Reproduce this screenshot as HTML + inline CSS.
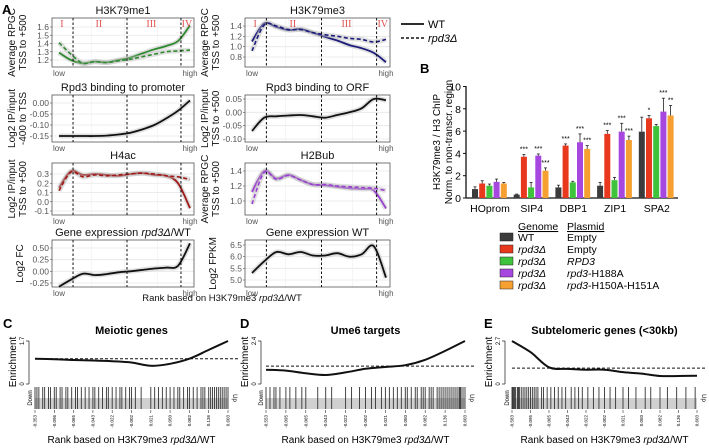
<!DOCTYPE html>
<html><head><meta charset="utf-8"><style>
body{margin:0;background:#fff;}
svg{display:block;font-family:"Liberation Sans",sans-serif;}
</style></head><body>
<svg id="fig" width="709" height="448" viewBox="0 0 709 448"></svg>
<script>
const NS='http://www.w3.org/2000/svg';
const svg=document.getElementById('fig');
function mk(tag,attrs,parent,text){const e=document.createElementNS(NS,tag);for(const k in attrs)e.setAttribute(k,attrs[k]);if(text!==undefined)e.textContent=text;(parent||svg).appendChild(e);return e;}
function smooth(pts){let d='M'+pts[0][0]+','+pts[0][1];for(let i=0;i<pts.length-1;i++){const p0=pts[Math.max(0,i-1)],p1=pts[i],p2=pts[i+1],p3=pts[Math.min(pts.length-1,i+2)];const c1=[p1[0]+(p2[0]-p0[0])/6,p1[1]+(p2[1]-p0[1])/6],c2=[p2[0]-(p3[0]-p1[0])/6,p2[1]-(p3[1]-p1[1])/6];d+=' C'+c1[0].toFixed(1)+','+c1[1].toFixed(1)+' '+c2[0].toFixed(1)+','+c2[1].toFixed(1)+' '+p2[0]+','+p2[1];}return d;}

// ---------- Panel A data ----------
const me1WT=[1.29,1.2,1.16,1.18,1.17,1.2,1.23,1.28,1.33,1.37,1.43,1.62];
const me1KO=[1.41,1.27,1.16,1.18,1.17,1.19,1.21,1.24,1.27,1.3,1.31,1.32];
const me3WT=[1.1,1.45,1.38,1.32,1.34,1.27,1.19,1.12,1.03,0.97,0.88,0.70];
const me3KO=[0.92,1.42,1.40,1.33,1.33,1.27,1.23,1.20,1.16,1.14,1.09,1.14];
const promWT=[-0.15,-0.15,-0.15,-0.15,-0.148,-0.143,-0.135,-0.12,-0.1,-0.07,-0.035,0.012];
const orfWT=[-0.07,-0.02,-0.015,-0.012,-0.01,-0.015,-0.02,-0.01,0.0,0.015,0.05,0.045];
const h4WT=[0.15,0.33,0.29,0.3,0.29,0.28,0.3,0.31,0.29,0.28,0.2,-0.07];
const h4KO=[0.12,0.32,0.27,0.29,0.28,0.29,0.3,0.31,0.3,0.28,0.27,0.24];
const h2WT=[1.12,1.4,1.3,1.35,1.28,1.22,1.21,1.19,1.17,1.16,1.14,0.9];
const h2KO=[0.96,1.38,1.29,1.34,1.28,1.22,1.22,1.2,1.19,1.18,1.17,1.14];
const fcWT=[-0.33,-0.18,-0.05,-0.08,-0.06,-0.02,0.0,0.03,0.06,0.08,0.12,0.6];
const fpkmWT=[5.3,5.8,6.2,6.1,6.2,6.05,6.05,6.15,6.0,6.1,6.45,5.1];
const me1Ticks=[1.2,1.3,1.4,1.5,1.6];
const me3Ticks=[0.8,1.0,1.2,1.4];
const promTicks=[0.00,-0.05,-0.10,-0.15];
const orfTicks=[0.05,0.00,-0.05,-0.10];
const h4Ticks=[0.3,0.2,0.1,0.0,-0.1];
const h2Ticks=[1.4,1.2,1.0];
const fcTicks=[0.50,0.25,0.00,-0.25];
const fpkmTicks=[6.5,6.0,5.5,5.0];

const L=[52,194],R=[245,390];
const panels=[
 {name:'h3k79me1',col:L,y:[18,67],v0:1.2,p0:60,v1:1.6,p1:27,title:'H3K79me1',ylab:['Average RPGC','TSS to +500'],ticks:me1Ticks,dec:1,series:[[me1WT,'#2f8a2f',0],[me1KO,'#2f8a2f',1]],regions:true},
 {name:'h3k79me3',col:R,y:[18,67],v0:0.8,p0:57,v1:1.4,p1:26,title:'H3K79me3',ylab:['Average RPGC','TSS to +500'],ticks:me3Ticks,dec:1,series:[[me3WT,'#1c1c7a',0],[me3KO,'#1c1c7a',1]],regions:true},
 {name:'rpd3-promoter',col:L,y:[95,142],v0:0,p0:103,v1:-0.15,p1:136,title:'Rpd3 binding to promoter',ylab:['Log2 IP/input','-400 to TSS'],ticks:promTicks,dec:2,series:[[promWT,'#111',0]]},
 {name:'rpd3-orf',col:R,y:[95,142],v0:0.05,p0:99,v1:-0.10,p1:139,title:'Rpd3 binding to ORF',ylab:['Log2 IP/input','TSS to +500'],ticks:orfTicks,dec:2,series:[[orfWT,'#111',0]]},
 {name:'h4ac',col:L,y:[163,215],v0:0.3,p0:174,v1:-0.1,p1:211,title:'H4ac',ylab:['Log2 IP/input','TSS to +500'],ticks:h4Ticks,dec:1,series:[[h4WT,'#a01818',0],[h4KO,'#a01818',1]]},
 {name:'h2bub',col:R,y:[163,215],v0:1.4,p0:171,v1:1.0,p1:201,title:'H2Bub',ylab:['Average RPGC','TSS to +500'],ticks:h2Ticks,dec:1,series:[[h2WT,'#9a40d0',0],[h2KO,'#9a40d0',1]]},
 {name:'expression-fc',col:L,y:[240,287],v0:0.5,p0:248,v1:-0.25,p1:283,title:'Gene expression rpd3Δ/WT',ylab:['Log2 FC'],ticks:fcTicks,dec:2,series:[[fcWT,'#111',0]]},
 {name:'expression-wt',col:R,y:[240,287],v0:6.5,p0:245,v1:5.0,p1:280,title:'Gene expression WT',ylab:['Log2 FPKM'],ticks:fpkmTicks,dec:1,series:[[fpkmWT,'#111',0]]}
];
mk('text',{x:2,y:14,'font-size':13,'font-weight':'bold',},svg,'A');
panels.forEach(P=>{
 const g=mk('g',{});
 
 
 const x0=P.col[0],x1=P.col[1],y0=P.y[0],y1=P.y[1];
 const ys=v=>P.p0+(v-P.v0)*(P.p1-P.p0)/(P.v1-P.v0);
 const xs=f=>x0+7+f*(x1-x0-11);
 P.ticks.forEach(t=>{mk('line',{x1:x0,x2:x1,y1:ys(t),y2:ys(t),stroke:'#e6e6e6','stroke-width':0.8},g);});
 [0.25,0.5,0.75].forEach(f=>mk('line',{x1:xs(f),x2:xs(f),y1:y0,y2:y1,stroke:'#efefef','stroke-width':0.6},g));
 mk('rect',{x:x0,y:y0,width:x1-x0,height:y1-y0,fill:'none',stroke:'#555','stroke-width':0.8},g);
 P.ticks.forEach(t=>{const tl=mk('text',{x:x0-3,y:ys(t)+3,'font-size':8.5,fill:'#555','text-anchor':'end'},g,t.toFixed(P.dec));
  
  mk('line',{x1:x0-2,x2:x0,y1:ys(t),y2:ys(t),stroke:'#555','stroke-width':0.6},g);});
 mk('text',{x:xs(0),y:y1+9,'font-size':8,fill:'#555','text-anchor':'middle'},g,'low');
 mk('text',{x:xs(1),y:y1+9,'font-size':8,fill:'#555','text-anchor':'middle'},g,'high');
 const tt=mk('text',{x:(x0+x1)/2,y:y0-4,'font-size':11,fill:'#111','text-anchor':'middle'},g);
 
 if(P.title.indexOf('rpd3Δ')>=0){mk('tspan',{},tt,'Gene expression ');mk('tspan',{'font-style':'italic'},tt,'rpd3Δ');mk('tspan',{},tt,'/WT');}else tt.textContent=P.title;
 const cy=(y0+y1)/2;
 P.ylab.forEach((s,i)=>{const lx=x0-37+(P.ylab.length==1?8:0)+i*11;mk('text',{x:lx,y:cy,'font-size':10,fill:'#111','text-anchor':'middle',transform:`rotate(-90 ${lx} ${cy})`},g,s);});
 P.series.forEach(([arr,col,dash])=>{
  const pts=arr.map((v,i)=>[+xs(i/(arr.length-1)).toFixed(1),+ys(v).toFixed(1)]);
  const d=smooth(pts);
  mk('path',{d:d,fill:'none',stroke:'#bbb','stroke-opacity':0.45,'stroke-width':5},g);
  const ln=mk('path',{d:d,fill:'none',stroke:col,'stroke-width':dash?1.6:1.8,'stroke-dasharray':dash?'4 2.5':'none'},g);
  
  
 });
 [0.12,0.5,0.88].forEach(f=>mk('line',{x1:x0+f*(x1-x0)+4,x2:x0+f*(x1-x0)+4,y1:y0,y2:y1,stroke:'#111','stroke-width':1,'stroke-dasharray':'2.5 2'},g));
 if(P.regions){const rx=[0.07,0.33,0.7,0.95];['I','II','III','IV'].forEach((s,i)=>mk('text',{x:x0+rx[i]*(x1-x0),y:y0+9,'font-size':10,fill:'#e05050','font-family':'Liberation Serif,serif','text-anchor':'middle'},g,s));}
});
const xt=mk('text',{x:222,y:301,'font-size':9.5,fill:'#111','text-anchor':'middle',});
mk('tspan',{},xt,'Rank based on H3K79me3 ');mk('tspan',{'font-style':'italic'},xt,'rpd3Δ');mk('tspan',{},xt,'/WT');
const lg=mk('g',{});
mk('line',{x1:401,x2:424,y1:24,y2:24,stroke:'#111','stroke-width':1.8},lg);
mk('text',{x:428,y:28,'font-size':11},lg,'WT');
mk('line',{x1:401,x2:424,y1:38,y2:38,stroke:'#111','stroke-width':1.6,'stroke-dasharray':'3 2'},lg);
mk('text',{x:428,y:42,'font-size':11,'font-style':'italic'},lg,'rpd3Δ');

// ---------- Panel B ----------
const bCats=['HOprom','SIP4','DBP1','ZIP1','SPA2'];
const bWT=[0.8,0.3,0.95,1.1,5.95];
const bKO=[1.3,3.7,4.7,5.75,7.15];
const bRPD3=[1.1,0.95,1.4,1.6,6.45];
const bH188A=[1.45,3.8,5.0,5.95,7.75];
const bH150A=[1.3,2.45,4.4,5.2,7.4];
const eWT=[0.2,0.05,0.2,0.3,1.3];
const eKO=[0.25,0.2,0.15,0.3,0.25];
const eRPD3=[0.15,0.45,0.1,0.25,0.15];
const eH188A=[0.25,0.15,0.75,0.75,1.2];
const eH150A=[0.1,0.25,0.3,0.35,0.9];
const bTicks=[0,2,4,6,8,10];
const bSeries=[[bWT,eWT,'#3b3b3b'],[bKO,eKO,'#e8391f'],[bRPD3,eRPD3,'#3fc23c'],[bH188A,eH188A,'#a648e0'],[bH150A,eH150A,'#f5a030']];
const starTxt=[['','','','',''],['','***','','***','***'],['','***','','***','***'],['','***','','***','***'],['','*','','***','**']];
mk('text',{x:420,y:73,'font-size':13,'font-weight':'bold',},svg,'B');
const gb=mk('g',{});
const by=v=>198-v*11.15;
const bx0=466,bx1=678;
mk('line',{x1:bx0,x2:bx1,y1:198,y2:198,stroke:'#111','stroke-width':1.3},gb);
mk('line',{x1:bx0,x2:bx0,y1:86,y2:198,stroke:'#111','stroke-width':1.3},gb);
bTicks.forEach(t=>{mk('line',{x1:bx0-3,x2:bx0,y1:by(t),y2:by(t),stroke:'#111'},gb);
 const tl=mk('text',{x:bx0-5,y:by(t)+4,'font-size':10.5,'text-anchor':'end'},gb,String(t));
 });
mk('text',{x:440,y:142,'font-size':10,'text-anchor':'middle',transform:'rotate(-90 440 142)'},gb,'H3K79me3 / H3 ChIP');
mk('text',{x:452,y:142,'font-size':10,'text-anchor':'middle',transform:'rotate(-90 452 142)'},gb,'Norm. to non-transcr. region');
bCats.forEach((c,ci)=>{
 const cx=490+ci*41.7;
 const cl=mk('text',{x:cx,y:212,'font-size':10.5,'text-anchor':'middle'},gb,c);
 
 bSeries.forEach(([vals,errs,col],si)=>{
  const x=cx-15+si*7.2;
  const r=mk('rect',{x:x-3,y:by(vals[ci]),width:6,height:198-by(vals[ci]),fill:col},gb);
  
  
  const top=by(vals[ci]+errs[ci]);
  mk('line',{x1:x,x2:x,y1:by(vals[ci]),y2:top,stroke:'#222','stroke-width':0.8},gb);
  mk('line',{x1:x-1.5,x2:x+1.5,y1:top,y2:top,stroke:'#222','stroke-width':0.8},gb);
  const s=starTxt[ci][si];
  if(s)mk('text',{x:x,y:top-3,'font-size':7,'text-anchor':'middle'},gb,s);
 });
});
const lb=mk('g',{});
mk('text',{x:518,y:230,'font-size':10.5,'text-decoration':'underline'},lb,'Genome');
mk('text',{x:567,y:230,'font-size':10.5,'text-decoration':'underline'},lb,'Plasmid');
const legG=['WT','rpd3Δ','rpd3Δ','rpd3Δ','rpd3Δ'];
const legP=['Empty','Empty','RPD3','-H188A','-H150A-H151A'];
bSeries.forEach(([v,e,col],i)=>{const yy=237+i*12;
 mk('rect',{x:500,y:yy-4,width:13,height:8,fill:col,stroke:'#222','stroke-width':0.5},lb);
 mk('text',{x:518,y:yy+4,'font-size':10.5,'font-style':i?'italic':'normal'},lb,legG[i]);
 const t=mk('text',{x:567,y:yy+4,'font-size':10.5},lb);
 if(i<2)t.textContent=legP[i];else if(i==2){t.setAttribute('font-style','italic');t.textContent=legP[i];}
 else{mk('tspan',{'font-style':'italic'},t,'rpd3');mk('tspan',{},t,legP[i]);}
});

// ---------- Panels C, D, E ----------
const cCurve=[1.0,0.98,0.95,0.93,0.9,0.85,0.72,0.8,1.0,1.35,1.7];
const dCurve=[0.8,0.75,0.6,0.5,0.65,0.85,0.95,1.05,1.35,1.85,2.4];
const eCurve=[2.7,2.0,1.05,0.95,0.9,0.9,0.75,0.65,0.5,0.5,0.52];
const cHits=[0,0.01,0.02,0.04,0.05,0.07,0.08,0.1,0.11,0.13,0.14,0.16,0.17,0.19,0.21,0.22,0.24,0.26,0.28,0.3,0.31,0.33,0.35,0.37,0.38,0.4,0.42,0.44,0.45,0.47,0.49,0.5,0.52,0.55,0.6,0.62,0.64,0.66,0.68,0.7,0.72,0.74,0.75,0.77,0.79,0.8,0.82,0.84,0.86,0.87,0.88,0.9,0.91,0.92,0.93,0.94,0.95,0.96,0.97,0.98,0.99,1.0];
const dHits=[0,0.02,0.04,0.05,0.07,0.1,0.12,0.15,0.18,0.2,0.26,0.3,0.33,0.4,0.43,0.47,0.5,0.53,0.55,0.58,0.6,0.62,0.64,0.66,0.68,0.7,0.71,0.73,0.75,0.76,0.78,0.79,0.8,0.82,0.83,0.84,0.86,0.87,0.88,0.89,0.9,0.91,0.92,0.93,0.94,0.95,0.96,0.97,0.975,0.98,0.99,1.0];
const eHits=[0,0.005,0.01,0.015,0.02,0.03,0.035,0.04,0.05,0.06,0.07,0.08,0.09,0.1,0.11,0.12,0.13,0.14,0.16,0.17,0.19,0.21,0.23,0.25,0.27,0.29,0.32,0.34,0.36,0.38,0.41,0.44,0.47,0.5,0.53,0.56,0.6,0.63,0.67,0.72,0.75,0.8,0.84,0.89,0.94,0.99];
const cTicks=['-0.353','-0.096','-0.065','-0.043','-0.022','-0.002','0.021','0.050','0.082','0.136','0.603'];
const dTicks=['-0.553','-0.095','-0.065','-0.043','-0.022','-0.002','0.021','0.050','0.082','0.136','0.603'];
const eTicks=['-0.583','-0.095','-0.065','-0.043','-0.022','-0.002','0.021','0.050','0.082','0.136','0.603'];
const gsea=[
 {id:'c',L:'C',lx:3,title:'Meiotic genes',ax:29,x0:35,x1:228,max:'1.7',maxV:1.7,curve:cCurve,hits:cHits,ticks:cTicks},
 {id:'d',L:'D',lx:240,title:'Ume6 targets',ax:261,x0:266,x1:465,max:'2.4',maxV:2.4,curve:dCurve,hits:dHits,ticks:dTicks},
 {id:'e',L:'E',lx:484,title:'Subtelomeric genes  (<30kb)',ax:505,x0:512,x1:697,max:'2.7',maxV:2.7,curve:eCurve,hits:eHits,ticks:eTicks}
];
gsea.forEach(G=>{
 const g=mk('g',{});
 
 
 mk('text',{x:G.lx,y:328,'font-size':13,'font-weight':'bold'},g,G.L);
 mk('text',{x:(G.x0+G.x1)/2,y:334,'font-size':11,'font-weight':'bold','text-anchor':'middle'},g,G.title);
 const ys=v=>384-v/G.maxV*43;
 const xs=f=>G.x0+f*(G.x1-G.x0);
 mk('line',{x1:G.ax,x2:G.ax,y1:341,y2:384,stroke:'#333','stroke-width':0.8},g);
 mk('line',{x1:G.ax-3,x2:G.ax,y1:341,y2:341,stroke:'#333','stroke-width':0.8},g);
 mk('line',{x1:G.ax-3,x2:G.ax,y1:384,y2:384,stroke:'#333','stroke-width':0.8},g);
 mk('text',{x:G.ax-5,y:341,'font-size':6,'text-anchor':'middle',transform:`rotate(-90 ${G.ax-5} 341)`},g,G.max);
 mk('text',{x:G.ax-5,y:384,'font-size':6,'text-anchor':'middle',transform:`rotate(-90 ${G.ax-5} 384)`},g,'0');
 mk('text',{x:G.ax-13,y:362,'font-size':10,'text-anchor':'middle',transform:`rotate(-90 ${G.ax-13} 362)`},g,'Enrichment');
 mk('line',{x1:G.x0,x2:G.x1+10,y1:ys(1),y2:ys(1),stroke:'#111','stroke-width':1,'stroke-dasharray':'3 2'},g);
 const pts=G.curve.map((v,i)=>[+xs(i/(G.curve.length-1)).toFixed(1),+ys(v).toFixed(1)]);
 const c=mk('path',{d:smooth(pts),fill:'none',stroke:'#111','stroke-width':2},g);
 
 mk('rect',{x:G.x0,y:398,width:G.x1-G.x0,height:11,fill:'#d0d0d0'},g);
 G.hits.forEach(h=>{mk('line',{x1:xs(h),x2:xs(h),y1:387,y2:409,stroke:'#333','stroke-width':0.9},g);});
 mk('text',{x:G.x0-3,y:398,'font-size':6,'text-anchor':'middle',transform:`rotate(-90 ${G.x0-3} 398)`},g,'Down');
 mk('text',{x:G.x1+5,y:398,'font-size':6,'text-anchor':'middle',transform:`rotate(90 ${G.x1+5} 398)`},g,'Up');
 G.ticks.forEach((t,i)=>{const x=xs(i/(G.ticks.length-1));
  mk('line',{x1:x,x2:x,y1:410,y2:413,stroke:'#333','stroke-width':0.6},g);
  mk('text',{x:x+1.5,y:415,'font-size':4.5,'text-anchor':'end',transform:`rotate(-90 ${x+1.5} 415)`},g,t);});
 const xt=mk('text',{x:(G.x0+G.x1)/2,y:443,'font-size':10,'text-anchor':'middle'},g);
 mk('tspan',{},xt,'Rank based on H3K79me3 ');mk('tspan',{'font-style':'italic'},xt,'rpd3Δ');mk('tspan',{},xt,'/WT');
});
</script>
</body></html>
